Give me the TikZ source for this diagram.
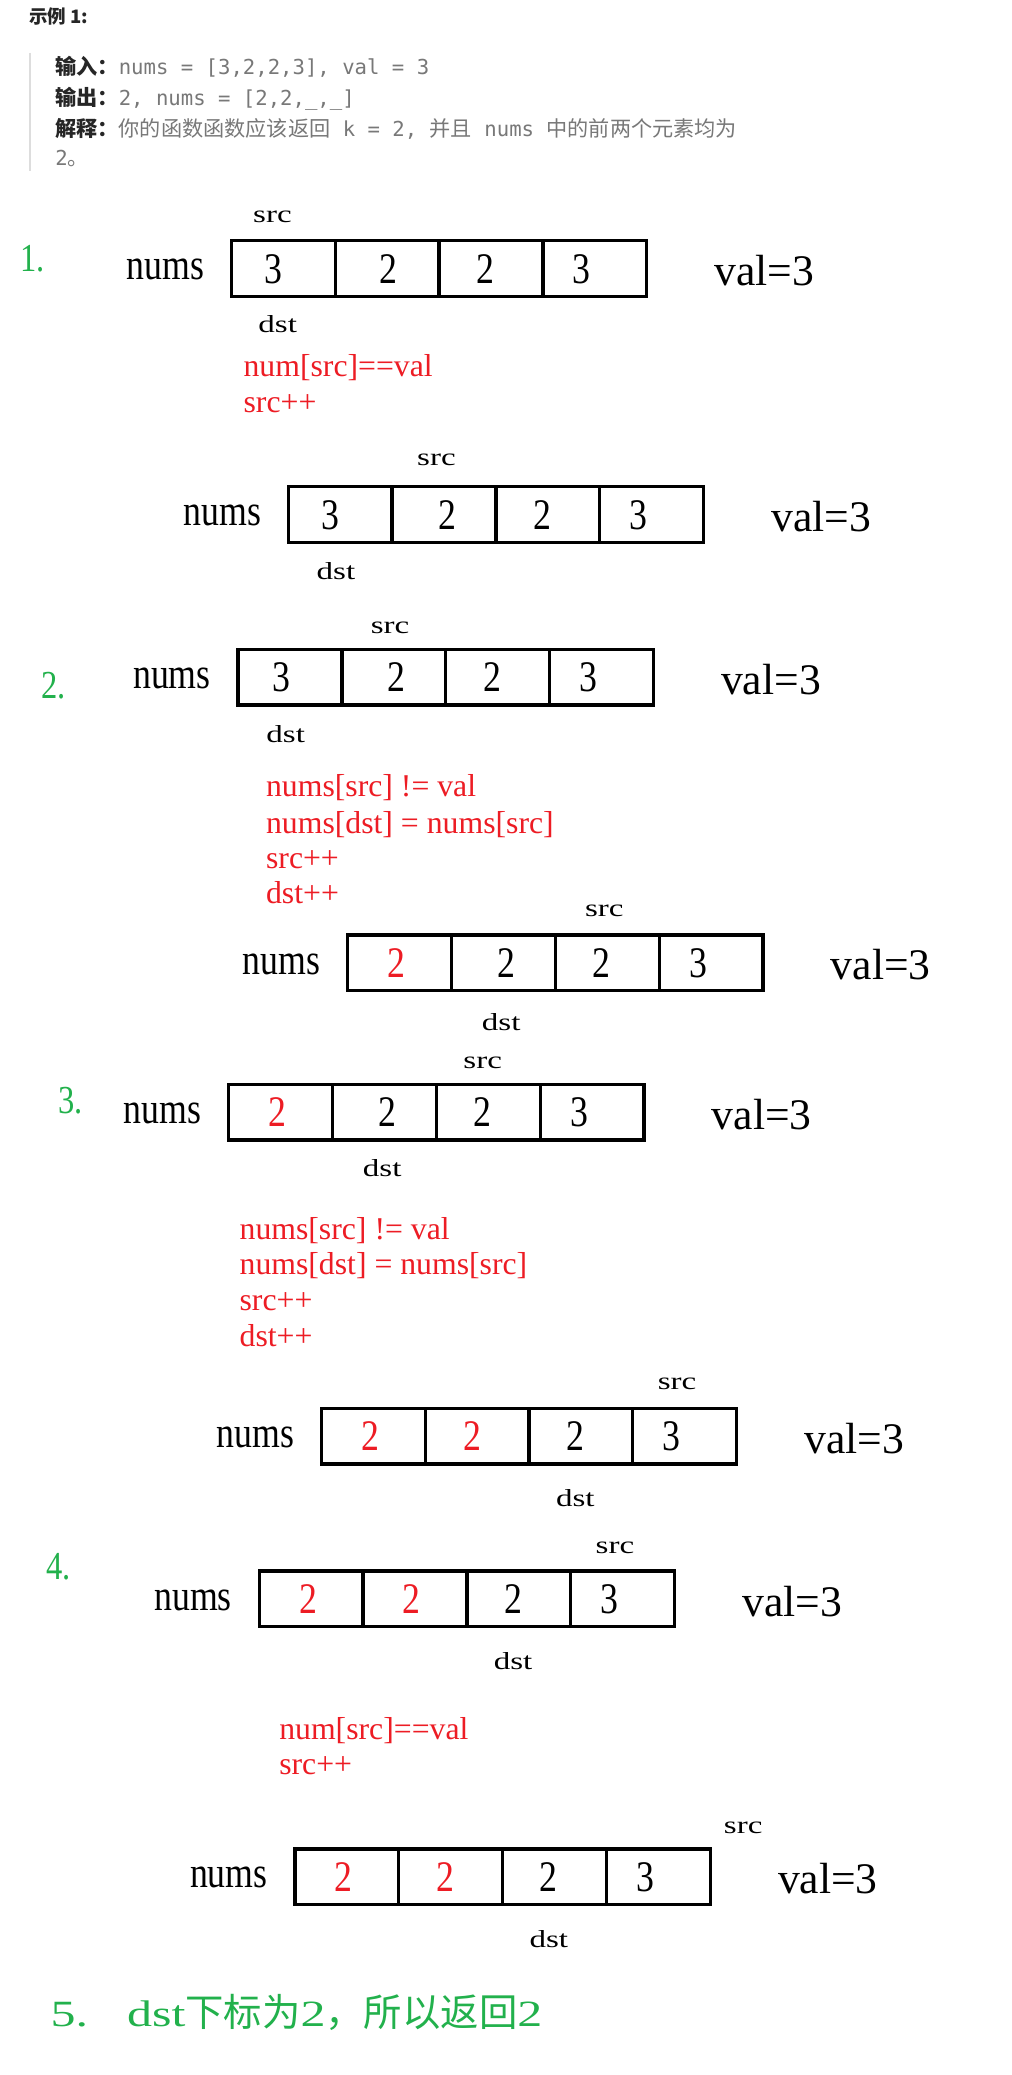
\documentclass[tikz,border=0pt]{standalone}
\usepackage{fontspec}
\setmainfont{Liberation Serif}
\newfontfamily\numfont[FakeStretch=0.82]{Liberation Serif}
\newfontfamily\labfont[FakeStretch=1.35]{Liberation Serif}
\newfontfamily\codefont{Liberation Serif}
\newfontfamily\cjk{Noto Sans CJK SC}
\newfontfamily\hdmono{DejaVu Sans Mono}
\definecolor{myred}{RGB}{237,28,36}
\definecolor{mygreen}{RGB}{34,177,76}
\definecolor{hdgray}{RGB}{120,120,120}
\definecolor{barcol}{RGB}{221,221,221}
\definecolor{hdblack}{RGB}{38,38,38}
\newcommand\rd[1]{\textcolor{myred}{#1}}
\tikzset{
  cell/.style={draw, line width=2.5pt, minimum width=78.5pt, minimum height=42pt, inner sep=0pt, outer sep=0pt, anchor=north west},
  dig/.style={font={\numfont\fontsize{33}{36}\selectfont}, anchor=base, inner sep=0pt},
  nm/.style={font={\numfont\fontsize{33}{36}\selectfont}, anchor=base, inner sep=0pt},
  vl/.style={font={\codefont\fontsize{33}{36}\selectfont}, anchor=base, inner sep=0pt},
  lbl/.style={font={\labfont\fontsize{18.5}{20}\selectfont}, anchor=base, inner sep=0pt},
  code/.style={font={\codefont\fontsize{24}{26}\selectfont}, text=myred, anchor=base west, inner sep=0pt},
  stepno/.style={font={\numfont\fontsize{30}{32}\selectfont}, text=mygreen, anchor=base west, inner sep=0pt},
  hd/.style={anchor=base west, inner sep=0pt, text=hdgray},
}
\newcommand\numrow[9]{%
  \foreach \k in {0,1,2,3} {\node[cell] (#1c\k) at ({#2+78.5*\k},{#3}) {};}
  \node[dig] (#1d0) at ({#2+#8},{#3+32}) {#4};
  \node[dig] (#1d1) at ({#2+#9},{#3+32}) {#5};
  \node[dig] (#1d2) at ({#2+192},{#3+32}) {#6};
  \node[dig] (#1d3) at ({#2+265},{#3+32}) {#7};
  \node[nm] (#1n) at ({#2-50},{#3+29.5}) {nums};
  \node[vl] (#1v) at ({#2+403},{#3+34}) {val=3};
}
\begin{document}
\begin{tikzpicture}[x=1pt,y=-1pt]
\useasboundingbox (0,0) rectangle (765,1569);
\fill[white] (0,0) rectangle (765,1569);

% header
\node[anchor=base west, inner sep=0pt, text=hdblack, font={\cjk\bfseries\fontsize{14}{16}\selectfont}] (title) at (22,17.5) {示例 1:};
\draw[barcol, line width=1.5pt] (22.7,40) -- (22.7,129);
\node[hd] (h1) at (41.6,56) {{\cjk\bfseries\color{hdblack}\fontsize{16}{18}\selectfont 输入：}{\hdmono\fontsize{15.6}{18}\selectfont nums = [3,2,2,3], val = 3}};
\node[hd] (h2) at (41.6,80) {{\cjk\bfseries\color{hdblack}\fontsize{16}{18}\selectfont 输出：}{\hdmono\fontsize{15.6}{18}\selectfont 2, nums = [2,2,\_,\_]}};
\node[hd] (h3) at (41.6,103) {{\cjk\bfseries\color{hdblack}\fontsize{16}{18}\selectfont 解释：}{\cjk\fontsize{16}{18}\selectfont 你的函数函数应该返回}{\hdmono\fontsize{15.6}{18}\selectfont{} k = 2, }{\cjk\fontsize{16}{18}\selectfont 并且}{\hdmono\fontsize{15.6}{18}\selectfont{} nums }{\cjk\fontsize{16}{18}\selectfont 中的前两个元素均为}};
\node[hd] (h4) at (41.6,125) {{\hdmono\fontsize{15.6}{18}\selectfont 2}{\cjk\fontsize{16}{18}\selectfont 。}};

% step numbers
\node[stepno] (s1) at (15,205) {1.};
\node[stepno] (s2) at (31,528) {2.};
\node[stepno] (s3) at (44,842) {3.};
\node[stepno] (s4) at (35,1194) {4.};

% arrays
\numrow{ra}{175}{182}{3}{2}{2}{3}{32}{119}
\numrow{rb}{218}{368}{3}{2}{2}{3}{32}{120}
\numrow{rc}{180}{491}{3}{2}{2}{3}{33}{120}
\numrow{rd}{263}{707}{\rd{2}}{2}{2}{3}{37}{120}
\numrow{re}{173}{820}{\rd{2}}{2}{2}{3}{37}{120}
\numrow{rf}{243}{1065}{\rd{2}}{\rd{2}}{2}{3}{37}{114}
\numrow{rg}{196}{1188}{\rd{2}}{\rd{2}}{2}{3}{37}{115}
\numrow{rh}{223}{1398}{\rd{2}}{\rd{2}}{2}{3}{37}{114}

% src / dst labels
\node[lbl] (ras) at (206,168.3) {src};  \node[lbl] (rad) at (210,251.3) {dst};
\node[lbl] (rbs) at (330,352.3) {src};  \node[lbl] (rbd) at (254,438.3) {dst};
\node[lbl] (rcs) at (295,479.3) {src};  \node[lbl] (rcd) at (216,561.3) {dst};
\node[lbl] (rds) at (457,693.3) {src};  \node[lbl] (rdd) at (379,779.3) {dst};
\node[lbl] (res) at (365,808.3) {src};  \node[lbl] (red) at (289,889.3) {dst};
\node[lbl] (rfs) at (512,1050.3) {src}; \node[lbl] (rfd) at (435,1139.3) {dst};
\node[lbl] (rgs) at (465,1174.3) {src}; \node[lbl] (rgd) at (388,1262.3) {dst};
\node[lbl] (rhs) at (562,1386.3) {src}; \node[lbl] (rhd) at (415,1472.3) {dst};

% code
\node[code] (ca1) at (184,285) {num[src]==val};
\node[code] (ca2) at (184,312) {src++};
\node[code] (cb1) at (201,602) {nums[src] != val};
\node[code] (cb2) at (201,630) {nums[dst] = nums[src]};
\node[code] (cb3) at (201,657) {src++};
\node[code] (cb4) at (201,683) {dst++};
\node[code] (cc1) at (181,937) {nums[src] != val};
\node[code] (cc2) at (181,964) {nums[dst] = nums[src]};
\node[code] (cc3) at (181,991) {src++};
\node[code] (cc4) at (181,1018) {dst++};
\node[code] (cd1) at (211,1315) {num[src]==val};
\node[code] (cd2) at (211,1342) {src++};

% step 5
\node[anchor=base west, inner sep=0pt, text=mygreen, font={\labfont\fontsize{28}{30}\selectfont}] (s5) at (38,1532) {5.};
\node[anchor=base west, inner sep=0pt, text=mygreen] (s5t) at (96,1532) {{\labfont\fontsize{28}{30}\selectfont dst}{\cjk\fontsize{29}{30}\selectfont 下标为}{\labfont\fontsize{28}{30}\selectfont 2}{\cjk\fontsize{29}{30}\selectfont ，所以返回}{\labfont\fontsize{28}{30}\selectfont 2}};
\end{tikzpicture}
\end{document}
